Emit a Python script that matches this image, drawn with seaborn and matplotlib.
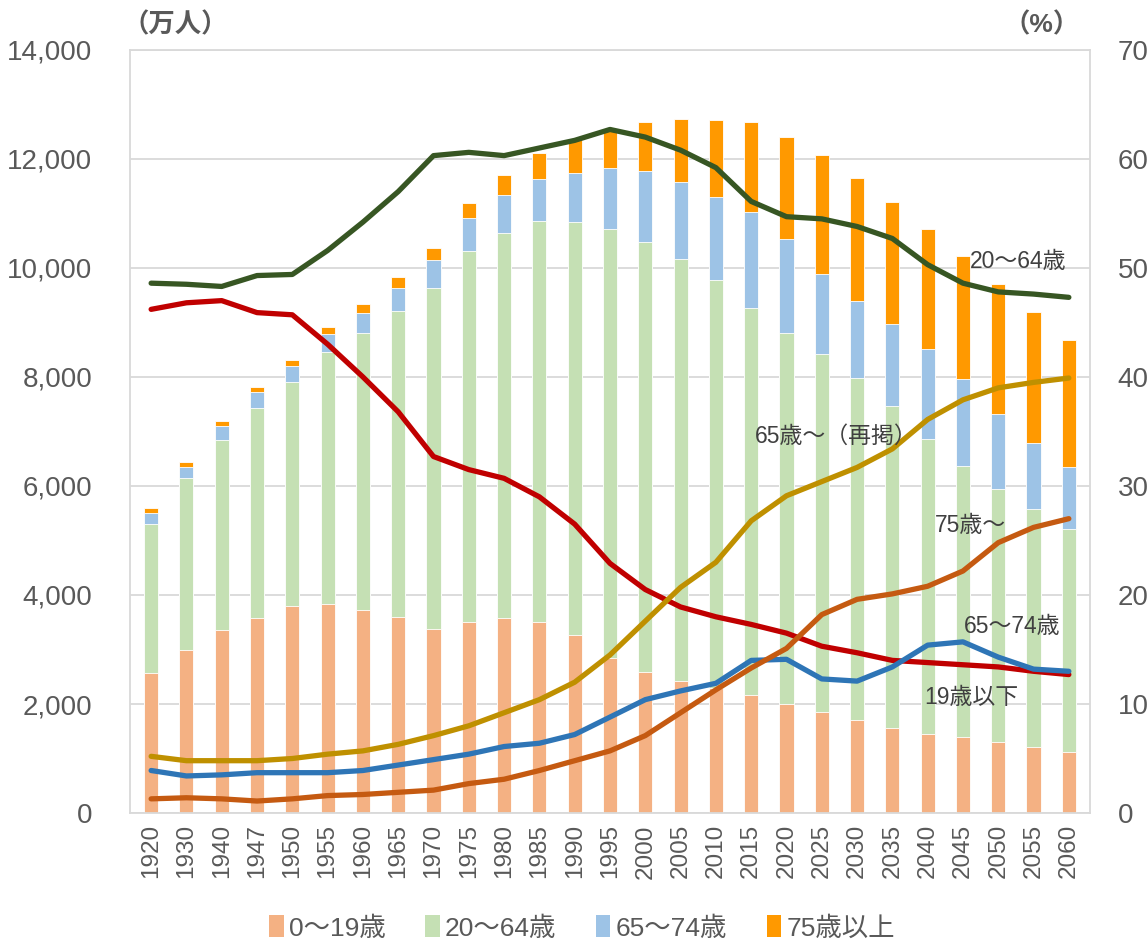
import numpy as np
import pandas as pd
import matplotlib
matplotlib.use("Agg")
import matplotlib.pyplot as plt
from matplotlib.patches import Patch
from matplotlib.ticker import FuncFormatter
import seaborn as sns

# ---------------------------------------------------------------------------
# Data (万人 for bars, % for lines)
# ---------------------------------------------------------------------------
years = ["1920", "1930", "1940", "1947", "1950", "1955", "1960", "1965", "1970",
         "1975", "1980", "1985", "1990", "1995", "2000", "2005", "2010", "2015",
         "2020", "2025", "2030", "2035", "2040", "2045", "2050", "2055", "2060"]

pop_0_19 = [2569, 2996, 3357, 3583, 3797, 3837, 3730, 3590, 3377,
            3510, 3577, 3501, 3257, 2850, 2595, 2415, 2290, 2168,
            2003, 1852, 1709, 1557, 1456, 1397, 1296, 1204, 1119]
pop_20_64 = [2729, 3143, 3483, 3844, 4110, 4618, 5078, 5619, 6252,
             6792, 7062, 7357, 7587, 7865, 7886, 7750, 7497, 7099,
             6801, 6565, 6279, 5917, 5412, 4975, 4646, 4368, 4100]
pop_65_74 = [214, 207, 260, 294, 301, 330, 365, 430, 510,
             605, 705, 775, 890, 1113, 1300, 1408, 1517, 1751,
             1726, 1473, 1405, 1499, 1642, 1599, 1381, 1221, 1128]
pop_75_over = [80, 93, 93, 86, 100, 133, 161, 187, 229,
               278, 362, 472, 617, 720, 900, 1160, 1406, 1650,
               1877, 2180, 2265, 2238, 2213, 2239, 2373, 2390, 2323]

pct_0_19 = [46.2, 46.8, 47.0, 45.9, 45.7, 43.0, 40.0, 36.8, 32.7,
            31.5, 30.7, 29.0, 26.5, 22.9, 20.5, 18.9, 18.0, 17.3,
            16.5, 15.3, 14.7, 14.0, 13.8, 13.6, 13.4, 13.0, 12.7]
pct_20_64 = [48.6, 48.5, 48.3, 49.3, 49.4, 51.6, 54.2, 57.0, 60.3,
             60.6, 60.3, 61.0, 61.7, 62.7, 62.0, 60.8, 59.2, 56.1,
             54.7, 54.5, 53.8, 52.7, 50.3, 48.6, 47.8, 47.6, 47.3]
pct_65_over = [5.2, 4.8, 4.8, 4.8, 5.0, 5.4, 5.7, 6.3, 7.1,
               8.0, 9.2, 10.4, 12.0, 14.5, 17.6, 20.7, 23.0, 26.8,
               29.1, 30.4, 31.7, 33.4, 36.1, 37.9, 39.0, 39.5, 39.9]
pct_65_74 = [3.9, 3.4, 3.5, 3.7, 3.7, 3.7, 3.9, 4.4, 4.9,
             5.4, 6.1, 6.4, 7.2, 8.8, 10.4, 11.2, 11.9, 14.0,
             14.1, 12.3, 12.1, 13.4, 15.4, 15.7, 14.3, 13.2, 13.0]
pct_75_over = [1.3, 1.4, 1.3, 1.1, 1.3, 1.6, 1.7, 1.9, 2.1,
               2.7, 3.1, 3.9, 4.8, 5.7, 7.1, 9.2, 11.3, 13.3,
               15.1, 18.2, 19.6, 20.1, 20.8, 22.2, 24.8, 26.2, 27.0]

bar_labels = ["0〜19歳", "20〜64歳", "65〜74歳", "75歳以上"]
bar_colors = ["#F4B183", "#C5E0B4", "#9DC3E6", "#FF9900"]

# ---------------------------------------------------------------------------
# Style
# ---------------------------------------------------------------------------
sns.set_style("white")
plt.rcParams["font.family"] = ["Liberation Sans", "Noto Sans CJK JP"]
TXT = "#595959"

df = pd.DataFrame({
    "year": years,
    "c1": pop_0_19,
    "c2": np.add(pop_0_19, pop_20_64),
    "c3": np.add(np.add(pop_0_19, pop_20_64), pop_65_74),
    "c4": np.add(np.add(np.add(pop_0_19, pop_20_64), pop_65_74), pop_75_over),
})

fig, ax = plt.subplots(figsize=(11.48, 9.41), dpi=100)
fig.subplots_adjust(left=0.1132, right=0.9495, bottom=0.136, top=0.947)

# stacked bars: draw cumulative totals from tallest to shortest
for col, c in zip(["c4", "c3", "c2", "c1"], bar_colors[::-1]):
    sns.barplot(data=df, x="year", y=col, color=c, saturation=1, width=0.4,
                ax=ax, edgecolor="white", linewidth=0.6)

ax.set_ylim(0, 14000)
ax.set_xlim(-0.6, len(years) - 0.4)
ax.set_yticks(np.arange(0, 14001, 2000))
ax.yaxis.set_major_formatter(FuncFormatter(lambda v, p: f"{int(v):,}"))
ax.yaxis.grid(True, color="#D9D9D9", linewidth=1.3)
ax.set_axisbelow(True)
ax.set_xlabel("")
ax.set_ylabel("")
ax.tick_params(axis="y", length=0, labelsize=20, labelcolor=TXT, pad=27)
ax.tick_params(axis="x", length=0, labelsize=17.5, labelcolor=TXT, pad=8,
               rotation=90)
for s in ax.spines.values():
    s.set_color("#D9D9D9")
    s.set_linewidth(1.3)

# percentage lines on the secondary axis
ax2 = ax.twinx()
xpos = np.arange(len(years))
lines = [
    (pct_20_64, "#375623"),
    (pct_0_19, "#C00000"),
    (pct_65_over, "#BF9000"),
    (pct_65_74, "#2E75B6"),
    (pct_75_over, "#C55A11"),
]
for vals, c in lines:
    sns.lineplot(x=xpos, y=vals, color=c, linewidth=3.8, ax=ax2,
                 solid_capstyle="round")
ax2.set_ylim(0, 70)
ax2.set_yticks(np.arange(0, 71, 10))
ax2.set_ylabel("")
ax2.tick_params(axis="y", length=0, labelsize=20, labelcolor=TXT, pad=20)
for s in ax2.spines.values():
    s.set_visible(False)

# line labels
lab_kw = dict(fontsize=16.5, color="#404040", ha="center", va="center")
ax2.text(24.55, 50.6, "20〜64歳", **lab_kw)
ax2.text(19.4, 34.6, "65歳〜（再掲）", **lab_kw)
ax2.text(23.2, 26.4, "75歳〜", **lab_kw)
ax2.text(24.4, 17.1, "65〜74歳", **lab_kw)
ax2.text(23.25, 10.6, "19歳以下", **lab_kw)

# unit labels
fig.text(122 / 1148, 1 - 25 / 941, "（万人）", fontsize=19, color=TXT,
         fontweight="bold", ha="left", va="center")
fig.text(1080 / 1148, 1 - 25 / 941, "（%）", fontsize=19, color=TXT,
         fontweight="bold", ha="right", va="center")

handles = [Patch(facecolor=c, edgecolor="none") for c in bar_colors]
fig.legend(handles, bar_labels, loc="center", bbox_to_anchor=(0.507, 1 - 928 / 941),
           ncol=4, frameon=False, fontsize=19, labelcolor=TXT,
           handlelength=0.55, handleheight=0.9, handletextpad=0.2,
           columnspacing=1.5)

fig.savefig("out.png", dpi=100)
